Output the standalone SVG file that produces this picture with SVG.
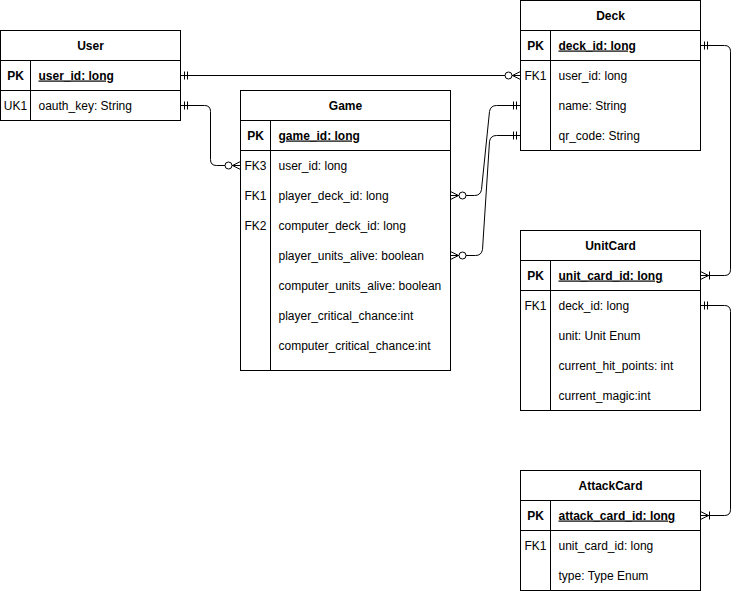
<svg xmlns="http://www.w3.org/2000/svg" width="740" height="591" viewBox="0 0 740 591">
<style>
text{font-family:"Liberation Sans",Arial,Helvetica,sans-serif;font-size:12px;fill:#000}
.t{font-weight:bold;text-anchor:middle}
.k{font-weight:bold;text-anchor:middle}
.kc{text-anchor:middle}
.pk{font-weight:bold;text-decoration:underline}
.box{fill:#fff;stroke:#000;stroke-width:1}
.ln{stroke:#000;stroke-width:1;fill:none}
.e{fill:none;stroke:#000;stroke-width:1}
</style>
<defs>
<marker id="mOne" markerUnits="userSpaceOnUse" markerWidth="20" markerHeight="20" refX="0" refY="0" orient="auto-start-reverse" overflow="visible">
<path d="M-4,-4V4M-7,-4V4" fill="none" stroke="#000" stroke-width="1"/>
</marker>
<marker id="zMany" markerUnits="userSpaceOnUse" markerWidth="20" markerHeight="20" refX="0" refY="0" orient="auto-start-reverse" overflow="visible">
<path d="M0,-4L-8,0L0,4M0,0H-8" fill="none" stroke="#000" stroke-width="1"/>
<circle cx="-12" cy="0" r="3.5" fill="#fff" stroke="#000" stroke-width="1"/>
</marker>
<marker id="oMany" markerUnits="userSpaceOnUse" markerWidth="20" markerHeight="20" refX="0" refY="0" orient="auto-start-reverse" overflow="visible">
<path d="M0,-4L-8,0L0,4M0,0H-8M-9,-4V4" fill="none" stroke="#000" stroke-width="1"/>
</marker>
</defs>
<g transform="translate(0.5,0.5)">
<g id="connectors">
<path class="e" d="M180,75H520" marker-start="url(#mOne)" marker-end="url(#zMany)"/>
<path class="e" d="M180,105H204Q210,105 210,111V159Q210,165 216,165H240" marker-start="url(#mOne)" marker-end="url(#zMany)"/>
<path class="e" d="M450,195H474Q480,195 481,189L489,111Q490,105 496,105H520" marker-start="url(#zMany)" marker-end="url(#mOne)"/>
<path class="e" d="M450,255H475Q481,255 482,249L489,141Q490,135 496,135H520" marker-start="url(#zMany)" marker-end="url(#mOne)"/>
<path class="e" d="M700,45H724Q730,45 730,51V269Q730,275 724,275H700" marker-start="url(#mOne)" marker-end="url(#oMany)"/>
<path class="e" d="M700,305H724Q730,305 730,311V509Q730,515 724,515H700" marker-start="url(#mOne)" marker-end="url(#oMany)"/>
</g>
<g id="user">
<rect class="box" x="0" y="30" width="180" height="90"/>
<path class="ln" d="M0,60H180M0,90H180M30,60V120"/>
<text class="t" x="90" y="49">User</text>
<text class="k" x="15" y="79">PK</text>
<text class="pk" x="38" y="79">user_id: long</text>
<text class="kc" x="15" y="109">UK1</text>
<text x="38" y="109">oauth_key: String</text>
</g>
<g id="game">
<rect class="box" x="240" y="90" width="210" height="280"/>
<path class="ln" d="M240,120H450M240,150H450M270,120V370"/>
<text class="t" x="345" y="109">Game</text>
<text class="k" x="255" y="139">PK</text>
<text class="pk" x="278" y="139">game_id: long</text>
<text class="kc" x="255" y="169">FK3</text>
<text x="278" y="169">user_id: long</text>
<text class="kc" x="255" y="199">FK1</text>
<text x="278" y="199">player_deck_id: long</text>
<text class="kc" x="255" y="229">FK2</text>
<text x="278" y="229">computer_deck_id: long</text>
<text x="278" y="259">player_units_alive: boolean</text>
<text x="278" y="289">computer_units_alive: boolean</text>
<text x="278" y="319">player_critical_chance:int</text>
<text x="278" y="349">computer_critical_chance:int</text>
</g>
<g id="deck">
<rect class="box" x="520" y="0" width="180" height="150"/>
<path class="ln" d="M520,30H700M520,60H700M550,30V150"/>
<text class="t" x="610" y="19">Deck</text>
<text class="k" x="535" y="49">PK</text>
<text class="pk" x="558" y="49">deck_id: long</text>
<text class="kc" x="535" y="79">FK1</text>
<text x="558" y="79">user_id: long</text>
<text x="558" y="109">name: String</text>
<text x="558" y="139">qr_code: String</text>
</g>
<g id="unitcard">
<rect class="box" x="520" y="230" width="180" height="180"/>
<path class="ln" d="M520,260H700M520,290H700M550,260V410"/>
<text class="t" x="610" y="249">UnitCard</text>
<text class="k" x="535" y="279">PK</text>
<text class="pk" x="558" y="279">unit_card_id: long</text>
<text class="kc" x="535" y="309">FK1</text>
<text x="558" y="309">deck_id: long</text>
<text x="558" y="339">unit: Unit Enum</text>
<text x="558" y="369">current_hit_points: int</text>
<text x="558" y="399">current_magic:int</text>
</g>
<g id="attackcard">
<rect class="box" x="520" y="470" width="180" height="120"/>
<path class="ln" d="M520,500H700M520,530H700M550,500V590"/>
<text class="t" x="610" y="489">AttackCard</text>
<text class="k" x="535" y="519">PK</text>
<text class="pk" x="558" y="519">attack_card_id: long</text>
<text class="kc" x="535" y="549">FK1</text>
<text x="558" y="549">unit_card_id: long</text>
<text x="558" y="579">type: Type Enum</text>
</g>
</g>
</svg>
